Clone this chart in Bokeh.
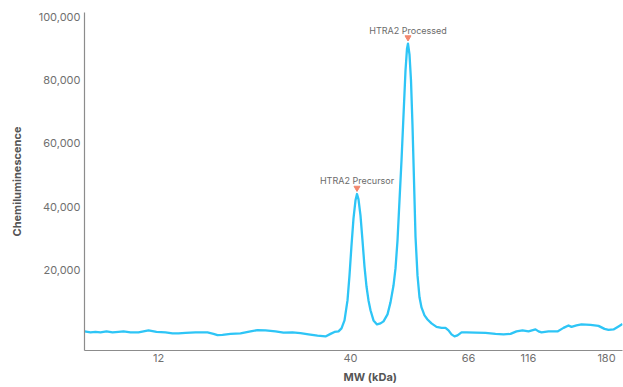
from bokeh.plotting import figure
from bokeh.models import Range1d, FixedTicker, NumeralTickFormatter, Title, ColumnDataSource
from bokeh.transform import dodge
from bokeh.core.properties import value
from bokeh.embed import file_html
from bokeh.resources import INLINE

# Migration position (arbitrary units along the capillary) and signal
position = [0, 6, 11, 16, 22, 28, 34, 39, 46, 54,
            64, 72, 81, 88, 94, 101, 111, 123, 129, 133,
            138, 146, 156, 166, 173, 181, 191, 199, 208, 216,
            224, 233, 241, 246, 250, 254, 257, 260, 263, 265,
            267, 269, 271, 272.5, 274, 276, 278, 280, 282, 284,
            286, 289, 292.5, 296, 299, 303, 306, 309, 311, 313,
            315, 317, 319, 321, 322.5, 323.5, 325, 326.5, 328, 329.5,
            331, 333, 335, 337, 340, 343, 347, 352, 357, 361,
            364, 367, 370, 373, 377, 382, 391, 401, 411, 419,
            426, 432, 438, 444, 451, 454, 457, 464, 473, 479,
            484, 487, 492, 497, 506, 514, 520, 524, 529, 534,
            538]
signal = [630, 320, 470, 320, 630, 320, 470, 630, 320, 320,
          950, 470, 320, 0, 0, 160, 320, 320, -160, -540,
          -470, -160, 0, 630, 1040, 950, 630, 220, 320, 90,
          -320, -730, -950, -160, 470, 630, 1580, 4100, 10400, 18300,
          27800, 36300, 42000, 44000, 42300, 37200, 29300, 21100, 14800, 10400,
          7300, 4100, 2840, 3150, 3790, 6000, 9800, 15100, 20500, 29300,
          42000, 54600, 68800, 83000, 89900, 91500, 88000, 79800, 65600, 48300,
          30600, 18300, 11400, 8200, 5700, 4400, 3150, 2050, 1740, 1740,
          950, -320, -950, -630, 320, 320, 220, 160, -160, -320,
          -160, 630, 950, 630, 1260, 630, 320, 630, 630, 1740,
          2520, 2050, 2520, 2840, 2680, 2370, 1420, 1100, 1260, 2210,
          3000]

# Molecular-weight ladder calibration (tick positions -> labels)
mw_tick_pos = [74, 266, 384, 444, 522]
mw_tick_labels = ["12", "40", "66", "116", "180"]

y_ticks = [20000, 40000, 60000, 80000, 100000]

# Peak annotations
peak_names = ["HTRA2 Precursor", "HTRA2 Processed"]
peak_pos = [272.5, 323.5]
peak_signal = [44000, 91500]

FONT = value("Inter")

p = figure(width=623, height=387, output_backend="svg", toolbar_location=None,
           x_range=Range1d(0, 538), y_range=Range1d(-5400, 101300),
           min_border_left=84, min_border_top=12, min_border_bottom=37,
           min_border_right=1)
p.outline_line_color = None
p.grid.visible = False
p.background_fill_color = "white"
p.border_fill_color = "white"

p.line(position, signal, line_color="#2ec5f6", line_width=2.3, line_join="round")

src = ColumnDataSource(dict(name=peak_names, pos=peak_pos, sig=peak_signal))
p.scatter(x="pos", y=dodge("sig", 1900, range=p.y_range), source=src,
          marker="inverted_triangle", size=6, fill_color="#f2876e", line_color="#f2876e")
p.text(x="pos", y="sig", text="name", source=src, text_align="center",
       text_baseline="bottom", y_offset=-8, text_font=FONT, text_font_size="9px",
       text_color="#6b6b6b")

for ax in (p.xaxis[0], p.yaxis[0]):
    ax.axis_line_color = "#8c8c8c"
    ax.axis_line_width = 1.2
    ax.major_tick_line_color = None
    ax.minor_tick_line_color = None
    ax.major_tick_out = 0
    ax.major_tick_in = 0
    ax.minor_tick_out = 0
    ax.minor_tick_in = 0
    ax.major_label_text_font = "Inter"
    ax.major_label_text_font_size = "11px"
    ax.major_label_text_color = "#707070"

p.xaxis.ticker = FixedTicker(ticks=mw_tick_pos)
p.xaxis.major_label_overrides = {t: l for t, l in zip(mw_tick_pos, mw_tick_labels)}
p.xaxis.major_label_standoff = 3
p.yaxis.ticker = FixedTicker(ticks=y_ticks)
p.yaxis.formatter = NumeralTickFormatter(format="0,0")
p.yaxis.major_label_standoff = 4

p.yaxis.axis_label = "Chemiluminescence"
p.yaxis.axis_label_text_font = "Inter"
p.yaxis.axis_label_text_font_style = "bold"
p.yaxis.axis_label_text_font_size = "11px"
p.yaxis.axis_label_text_color = "#555555"
p.yaxis.axis_label_standoff = 12

p.add_layout(Title(text="MW (kDa)", align="left", offset=259, standoff=7,
                   text_font="Inter", text_font_style="bold", text_font_size="11px",
                   text_color="#555555"), "below")

open("out.html", "w").write(file_html(p, INLINE))
